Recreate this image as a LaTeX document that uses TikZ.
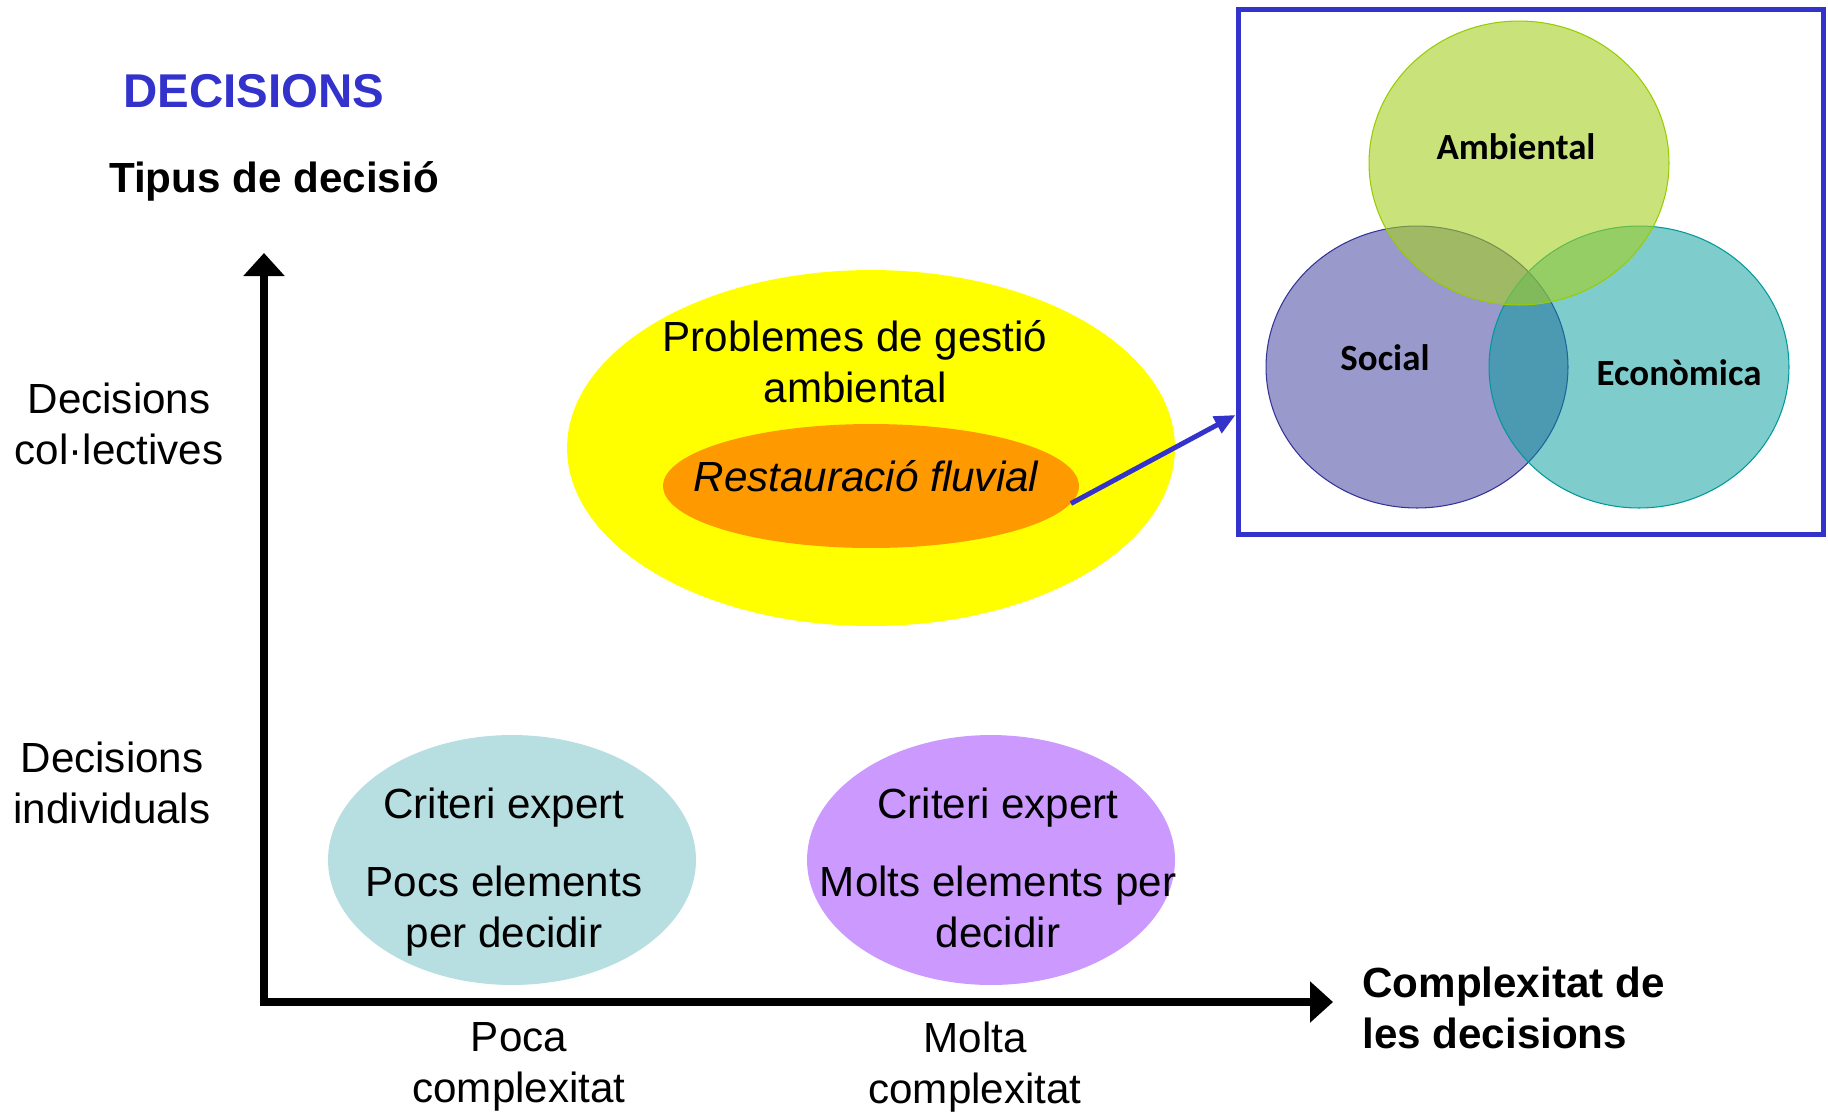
\documentclass[tikz,border=0pt]{standalone}
\usepackage{fontspec}
\setmainfont{Liberation Sans}
\newfontfamily\vennfont{Carlito}
\usetikzlibrary{shapes.geometric,arrows.meta}
\definecolor{decblue}{RGB}{51,51,204}
\definecolor{gestioyellow}{RGB}{255,255,0}
\definecolor{expertcyan}{RGB}{183,222,224}
\definecolor{expertlila}{RGB}{204,153,255}
\definecolor{restorange}{RGB}{255,153,0}
\definecolor{ambgreen}{RGB}{165,208,33}
\definecolor{ambline}{RGB}{153,204,0}
\definecolor{socblue}{RGB}{51,51,153}
\definecolor{ecoteal}{RGB}{0,153,153}

\begin{document}
\begin{tikzpicture}[x=0.02cm, y=-0.02cm,
    txt/.style={font=\fontsize{24}{29}\selectfont, align=center, inner sep=0pt},
    btxt/.style={font=\fontsize{24}{29}\selectfont\bfseries, align=center, inner sep=0pt},
    vtxt/.style={font=\vennfont\fontsize{21}{25}\selectfont\bfseries, inner sep=0pt},
    blob/.style={ellipse, inner sep=0pt},
    vcirc/.style={ellipse, inner sep=0pt, line width=0.6pt, fill opacity=#1},
    axis/.style={line width=4.5pt, {Triangle[length=0.46cm, width=0.8cm]}-{Triangle[length=0.46cm, width=0.8cm]}}]
        \useasboundingbox (0,0) rectangle (1828,1113);                             %
        \node[btxt, text=decblue, font=\fontsize{27}{32}\selectfont\bfseries] (title) at (254,91) {DECISIONS};
        \node[btxt] (ytitle) at (274,181)   {Tipus de decisió};                   %
        \coordinate (orig) at (264,1002);                                          %
        \coordinate (ytip) at (264,253);                                           %
        \coordinate (xtip) at (1333,1002);                                         %
        \draw [axis] (ytip) -- (orig) -- (xtip);                                   %axes
        \node[txt] (colect) at (119,424)    {Decisions\\col·lectives};            %
        \node[txt] (indiv)  at (112,783)    {Decisions\\individuals};             %
        \node[txt] (poca)   at (519,1067)   {Poca\\complexitat};                  %
        \node[txt] (molta)  at (975,1067)   {Molta\\complexitat};                 %
        \node[btxt, align=left, anchor=west] (xtitle) at (1362,1008) {Complexitat de\\les decisions};

        \node[blob, fill=gestioyellow, minimum width=12.16cm, minimum height=7.12cm] (gestio) at (871,448) {};
        \node[txt] (gestiotxt) at (855,362) {Problemes de gestió\\ambiental};     %
        \node[blob, fill=restorange, minimum width=8.32cm, minimum height=2.48cm] (fluvial) at (871,486) {};
        \node[txt, font=\fontsize{24}{29}\selectfont\itshape] (fluvialtxt) at (866,476) {Restauració fluvial};

        \node[blob, fill=expertcyan, minimum width=7.36cm, minimum height=5cm] (poces) at (512,860) {};
        \node[txt] (poces1) at (504,808)    {Criteri expert};                     %
        \node[txt] (poces2) at (504,911)    {Pocs elements\\per decidir};         %
        \node[blob, fill=expertlila, minimum width=7.36cm, minimum height=5cm] (moltes) at (991,860) {};
        \node[txt] (moltes1) at (998,808)   {Criteri expert};                     %
        \node[txt] (moltes2) at (998,907)   {Molts elements per\\decidir};        %

        \node[draw=decblue, line width=2.85pt, inner sep=0pt, minimum width=11.72cm, minimum height=10.52cm] (vennbox) at (1531,272) {};
        \node[vcirc=0.5, fill=socblue, draw=socblue, minimum width=6.04cm, minimum height=5.64cm] (social) at (1417,367) {};
        \node[vcirc=0.5, fill=ecoteal, draw=ecoteal, minimum width=6cm, minimum height=5.64cm] (econ) at (1639,367) {};
        \node[vcirc=0.6, fill=ambgreen, draw=ambline, minimum width=6cm, minimum height=5.68cm] (amb) at (1519,163) {};
        \node[vtxt] (ambtxt) at (1516,147)  {Ambiental};                          %
        \node[vtxt] (soctxt) at (1385,358)  {Social};                             %
        \node[vtxt] (ecotxt) at (1679,373)  {Econòmica};                          %

        \draw [decblue, line width=2.8pt, -{Triangle[length=0.42cm, width=0.36cm]}] (fluvial.-5) -- ([yshift=-2.86cm]vennbox.west);
\end{tikzpicture}
\end{document}
